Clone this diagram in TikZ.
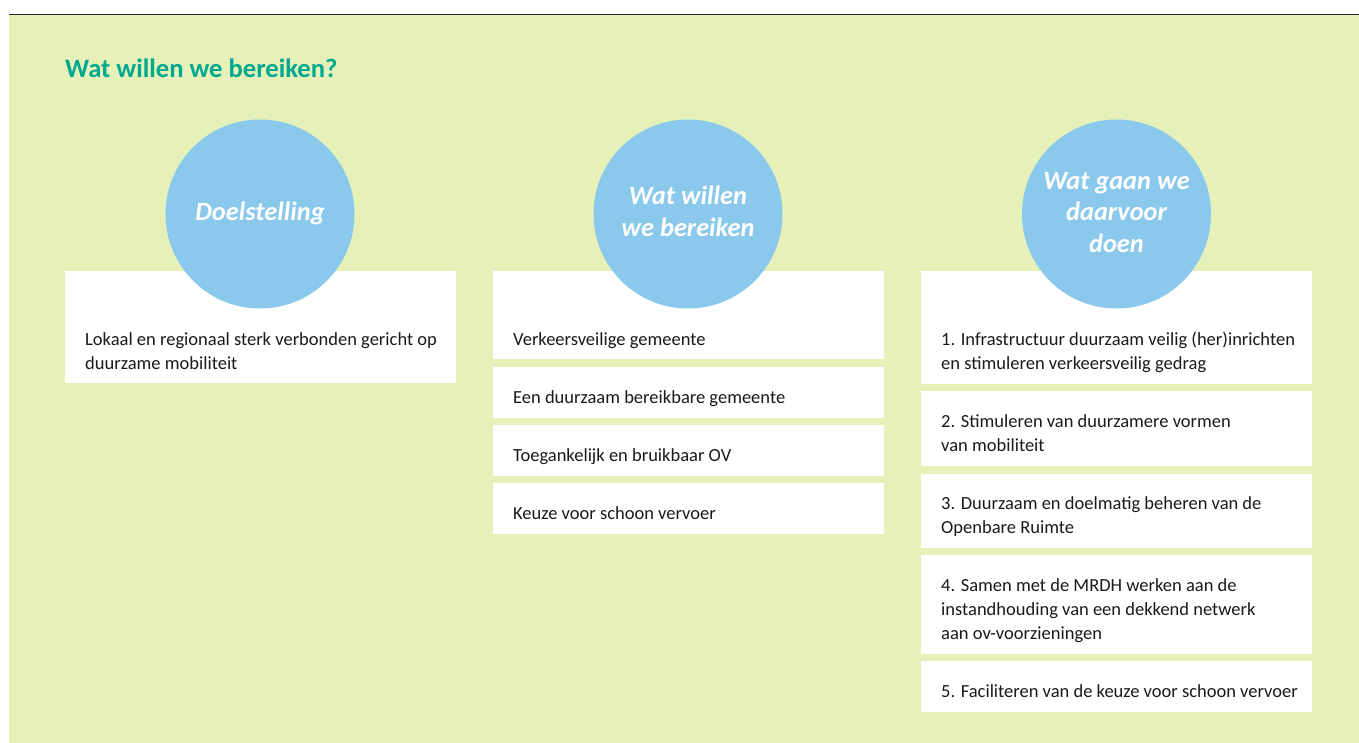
\documentclass[tikz,border=0pt]{standalone}
\usepackage{fontspec}
\setmainfont{Carlito}
\definecolor{bg}{HTML}{E6F1BA}
\definecolor{circ}{HTML}{8AC8EC}
\definecolor{ttl}{HTML}{00A88F}
\definecolor{txt}{HTML}{1A1A1A}
\tikzset{
  box/.style={fill=white, draw=none, inner sep=0pt, anchor=north west},
  circ/.style={circle, fill=circ, draw=none, inner sep=0pt, minimum size=189pt},
  line/.style={anchor=base west, inner sep=0pt, text=txt, font=\fontsize{18.5}{24}\selectfont},
  ctext/.style={anchor=base, inner sep=0pt, text=white, font=\fontsize{26.4}{31}\selectfont\bfseries\itshape},
}
\begin{document}
\begin{tikzpicture}[x=1pt,y=-1pt]
\useasboundingbox (0,0) rectangle (1359,743);
\fill[white] (0,0) rectangle (1359,743);
\fill[bg] (9,15.5) rectangle (1359,743);
\draw[line width=1pt, color=black!85] (9,15) -- (1359,15);
\node[anchor=base west, inner sep=0pt, text=ttl, font=\fontsize{26.6}{30}\selectfont\bfseries] (title) at (65,77.7) {Wat willen we bereiken?};
% column 1
\node[box, minimum width=391pt, minimum height=112pt] (a1) at (65,271) {};
% column 2
\node[box, minimum width=391pt, minimum height=88pt] (b1) at (493,271) {};
\node[box, minimum width=391pt, minimum height=51pt] (b2) at (493,367) {};
\node[box, minimum width=391pt, minimum height=51pt] (b3) at (493,425) {};
\node[box, minimum width=391pt, minimum height=51pt] (b4) at (493,483) {};
% column 3
\node[box, minimum width=391pt, minimum height=113pt] (c1) at (921,271) {};
\node[box, minimum width=391pt, minimum height=75pt] (c2) at (921,391) {};
\node[box, minimum width=391pt, minimum height=74pt] (c3) at (921,474) {};
\node[box, minimum width=391pt, minimum height=99pt] (c4) at (921,555) {};
\node[box, minimum width=391pt, minimum height=51pt] (c5) at (921,661) {};
% circles
\node[circ] (k1) at (260,214) {};
\node[circ] (k2) at (688,214) {};
\node[circ] (k3) at (1116.5,214) {};
\node[ctext] (k1t) at (260,221) {Doelstelling};
\node[ctext] (k2ta) at (688,205) {Wat willen};
\node[ctext] (k2tb) at (688,237) {we bereiken};
\node[ctext] (k3ta) at (1116.5,189.5) {Wat gaan we};
\node[ctext] (k3tb) at (1116.5,221) {daarvoor};
\node[ctext] (k3tc) at (1116.5,252.5) {doen};
% texts column 1
\node[line] (a1l1) at (85,345) {Lokaal en regionaal sterk verbonden gericht op};
\node[line] (a1l2) at (85,369) {duurzame mobiliteit};
% texts column 2
\node[line] (b1l) at (513,345) {Verkeersveilige gemeente};
\node[line] (b2l) at (513,403) {Een duurzaam bereikbare gemeente};
\node[line] (b3l) at (513,461.5) {Toegankelijk en bruikbaar OV};
\node[line] (b4l) at (513,519) {Keuze voor schoon vervoer};
% texts column 3
\node[line] (c1l1) at (941,345) {1. Infrastructuur duurzaam veilig (her)inrichten};
\node[line] (c1l2) at (941,369) {en stimuleren verkeersveilig gedrag};
\node[line] (c2l1) at (941,427) {2. Stimuleren van duurzamere vormen};
\node[line] (c2l2) at (941,451) {van mobiliteit};
\node[line] (c3l1) at (941,509) {3. Duurzaam en doelmatig beheren van de};
\node[line] (c3l2) at (941,533) {Openbare Ruimte};
\node[line] (c4l1) at (941,591.5) {4. Samen met de MRDH werken aan de};
\node[line] (c4l2) at (941,615) {instandhouding van een dekkend netwerk};
\node[line] (c4l3) at (941,639) {aan ov-voorzieningen};
\node[line] (c5l) at (941,697) {5. Faciliteren van de keuze voor schoon vervoer};
\end{tikzpicture}
\end{document}
